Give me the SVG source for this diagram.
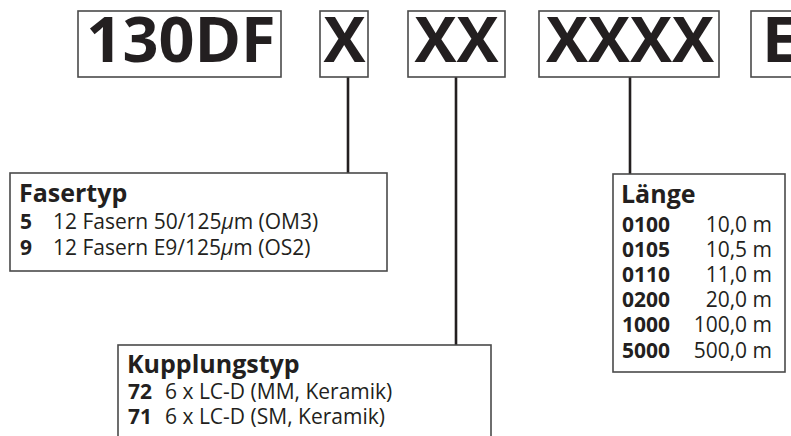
<svg xmlns="http://www.w3.org/2000/svg" width="791" height="436" viewBox="0 0 791 436">
<style>
text{font-family:"Open Sans","Noto Sans","Liberation Sans",sans-serif;fill:#231f20}
.big{font-size:63px;font-weight:700}
.ttl{font-size:25px;font-weight:700}
.row{font-size:21px}
.b{font-weight:700}
.box{fill:#fff;stroke:#4a4a4a;stroke-width:1.6}
.con{stroke:#231f20;stroke-width:2.6;fill:none}
.mu{font-style:italic}
</style>
<rect width="791" height="436" fill="#fff"/>
<g id="connectors">
<line class="con" x1="348" y1="77" x2="348" y2="173"/>
<line class="con" x1="456" y1="77" x2="456" y2="345"/>
<line class="con" x1="630" y1="77" x2="630" y2="174"/>
</g>
<g id="code-130DF">
<rect class="box" x="78" y="11" width="203" height="66"/>
<text class="big" x="181" y="62" text-anchor="middle">130DF</text>
</g>
<g id="code-X">
<rect class="box" x="320" y="11" width="48" height="66"/>
<text class="big" x="344.5" y="62" text-anchor="middle">X</text>
</g>
<g id="code-XX">
<rect class="box" x="408" y="11" width="97" height="66"/>
<text class="big" x="456.5" y="62" text-anchor="middle">XX</text>
</g>
<g id="code-XXXX">
<rect class="box" x="539" y="11" width="180" height="66"/>
<text class="big" x="630" y="62" text-anchor="middle">XXXX</text>
</g>
<g id="code-E">
<rect class="box" x="751" y="11" width="100" height="66"/>
<text class="big" x="762" y="62">E</text>
</g>
<g id="fasertyp">
<rect class="box" x="10" y="173" width="377" height="98"/>
<text class="ttl" x="19" y="202">Fasertyp</text>
<text class="row" y="229"><tspan class="b" x="20">5</tspan><tspan x="53">12 Fasern 50/125<tspan class="mu">µ</tspan>m (OM3)</tspan></text>
<text class="row" y="255"><tspan class="b" x="20">9</tspan><tspan x="53">12 Fasern E9/125<tspan class="mu">µ</tspan>m (OS2)</tspan></text>
</g>
<g id="kupplungstyp">
<rect class="box" x="118" y="345" width="373" height="110"/>
<text class="ttl" x="127" y="373">Kupplungstyp</text>
<text class="row" y="399"><tspan class="b" x="128">72</tspan><tspan x="165">6 x LC-D (MM, Keramik)</tspan></text>
<text class="row" y="424"><tspan class="b" x="128">71</tspan><tspan x="165">6 x LC-D (SM, Keramik)</tspan></text>
</g>
<g id="laenge">
<rect class="box" x="613" y="174" width="172" height="198"/>
<text class="ttl" x="621" y="203">Länge</text>
<g class="row">
<text class="row b" x="622" y="232">0100</text><text class="row" x="772" y="232" text-anchor="end">10,0 m</text>
<text class="row b" x="622" y="257">0105</text><text class="row" x="772" y="257" text-anchor="end">10,5 m</text>
<text class="row b" x="622" y="282">0110</text><text class="row" x="772" y="282" text-anchor="end">11,0 m</text>
<text class="row b" x="622" y="307">0200</text><text class="row" x="772" y="307" text-anchor="end">20,0 m</text>
<text class="row b" x="622" y="332">1000</text><text class="row" x="772" y="332" text-anchor="end">100,0 m</text>
<text class="row b" x="622" y="358">5000</text><text class="row" x="772" y="358" text-anchor="end">500,0 m</text>
</g>
</g>
</svg>
